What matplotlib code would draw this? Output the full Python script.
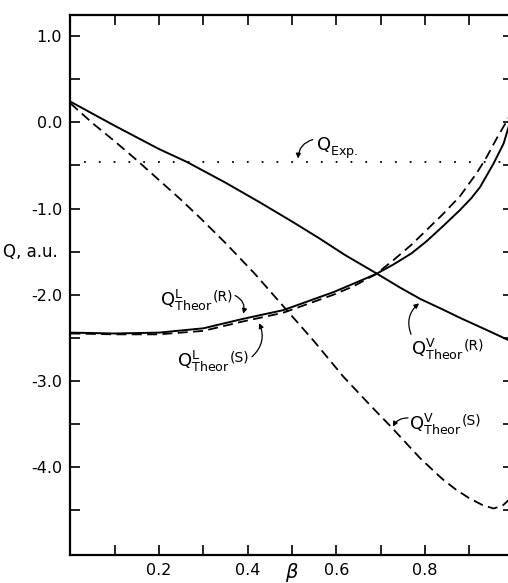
import matplotlib
matplotlib.use("Agg")
import matplotlib.pyplot as plt

plt.rcParams['font.family'] = ['DejaVu Sans']
plt.rcParams['mathtext.default'] = 'regular'
plt.rcParams['axes.unicode_minus'] = False

# Q^V_Theor(R)  (solid)
beta_vr = [0.0, 0.1, 0.2, 0.263, 0.35, 0.428, 0.5, 0.56, 0.62, 0.69, 0.745, 0.79, 0.84, 0.88, 0.94, 0.99]
q_vr = [0.24, -0.04, -0.31, -0.46, -0.70, -0.93, -1.15, -1.34, -1.54, -1.75, -1.92, -2.05, -2.17, -2.27, -2.41, -2.53]

# Q^V_Theor(S)  (dashed)
beta_vs = [0.0, 0.05, 0.1, 0.15, 0.2, 0.25, 0.293, 0.35, 0.415, 0.497, 0.55, 0.616, 0.68, 0.727,
           0.79, 0.84, 0.87, 0.90, 0.93, 0.955, 0.975, 0.99]
q_vs = [0.22, -0.01, -0.22, -0.44, -0.67, -0.90, -1.11, -1.40, -1.75, -2.23, -2.54, -2.95, -3.30, -3.55,
        -3.90, -4.14, -4.26, -4.36, -4.44, -4.48, -4.45, -4.38]

# Q^L_Theor(R)  (solid)
beta_lr = [0.0, 0.1, 0.2, 0.3, 0.39, 0.48, 0.594, 0.64, 0.69, 0.729, 0.77, 0.804, 0.84, 0.879,
           0.905, 0.925, 0.955, 0.978, 0.99]
q_lr = [-2.44, -2.45, -2.44, -2.39, -2.28, -2.18, -1.97, -1.87, -1.76, -1.65, -1.52, -1.38, -1.21, -1.02,
        -0.88, -0.75, -0.48, -0.245, -0.04]

# Q^L_Theor(S)  (dashed)
beta_ls = [0.0, 0.1, 0.2, 0.3, 0.39, 0.48, 0.594, 0.64, 0.69, 0.729, 0.77, 0.804, 0.84, 0.879,
           0.917, 0.94, 0.962, 0.99]
q_ls = [-2.45, -2.46, -2.46, -2.42, -2.31, -2.21, -2.00, -1.90, -1.76, -1.60, -1.42, -1.25, -1.07, -0.86,
        -0.59, -0.40, -0.19, 0.06]

# experimental value (dotted)
q_exp = -0.46
beta_exp = [0.03, 1.0]

xticks = [0.2, 0.4, 0.6, 0.8]
xticklabels = ['0.2', '0.4', '0.6', '0.8']
xminor = [0.1, 0.3, 0.5, 0.7, 0.9]
yticks = [1.0, 0.0, -1.0, -2.0, -3.0, -4.0]
yticklabels = ['1.0', '0.0', '-1.0', '-2.0', '-3.0', '-4.0']
yminor = [0.5, -0.5, -1.5, -2.5, -3.5, -4.5]

fig = plt.figure(figsize=(5.08, 5.83), dpi=100)
ax = fig.add_axes([70.4 / 508, 28 / 583, 443 / 508, 540 / 583])

dash = (0, (5.5, 3))
ax.plot(beta_vr, q_vr, color='black', lw=1.4)
ax.plot(beta_vs, q_vs, color='black', lw=1.3, linestyle=dash)
ax.plot(beta_lr, q_lr, color='black', lw=1.4)
ax.plot(beta_ls, q_ls, color='black', lw=1.3, linestyle=dash)
ax.plot(beta_exp, [q_exp, q_exp], color='black', lw=1.3, linestyle=(0, (1, 7.2)))

ax.set_xlim(0, 1.0)
ax.set_ylim(-5.02, 1.245)

ax.set_xticks(xticks)
ax.set_xticklabels(xticklabels)
ax.set_xticks(xminor, minor=True)
ax.set_yticks(yticks)
ax.set_yticklabels(yticklabels)
ax.set_yticks(yminor, minor=True)
ax.tick_params(which='both', direction='in', length=7, width=1.2,
               top=True, right=True, labelsize=11.5, pad=6)

for s in ax.spines.values():
    s.set_linewidth(1.6)

ax.set_xlabel(r'$\beta$', fontsize=14, fontstyle='italic', va='top')
ax.xaxis.set_label_coords(0.5, -0.012)
ax.set_ylabel('Q, a.u.', rotation=0, fontsize=12, ha='right', va='center')
ax.yaxis.set_label_coords(-0.028, 0.562)

arrow = dict(arrowstyle='-|>', color='black', lw=0.9, mutation_scale=7, shrinkA=0, shrinkB=0)


def label(x, y, sup, sub, tail):
    t = ax.text(x, y, r'$Q^{%s}_{%s}$' % (sup, sub), fontsize=13, ha='left', va='baseline')
    if tail:
        ax.annotate(tail, xy=(1, 0.38), xycoords=t, fontsize=10, ha='left', va='bottom')


label(0.554, -0.33, '', 'Exp.', '')
ax.annotate('', xy=(0.514, -0.42), xytext=(0.547, -0.20),
            arrowprops=dict(arrow, connectionstyle='arc3,rad=0.35'))

label(0.202, -2.13, 'L', 'Theor', '(R)')
ax.annotate('', xy=(0.39, -2.22), xytext=(0.372, -2.01),
            arrowprops=dict(arrow, connectionstyle='arc3,rad=-0.4'))

label(0.24, -2.84, 'L', 'Theor', '(S)')
ax.annotate('', xy=(0.426, -2.33), xytext=(0.41, -2.72),
            arrowprops=dict(arrow, connectionstyle='arc3,rad=0.35'))

label(0.769, -2.70, 'V', 'Theor', '(R)')
ax.annotate('', xy=(0.787, -2.10), xytext=(0.769, -2.46),
            arrowprops=dict(arrow, connectionstyle='arc3,rad=-0.35'))

label(0.765, -3.57, 'V', 'Theor', '(S)')
ax.annotate('', xy=(0.728, -3.53), xytext=(0.762, -3.43),
            arrowprops=dict(arrow, connectionstyle='arc3,rad=0.3'))

fig.savefig('out.png', dpi=100)
